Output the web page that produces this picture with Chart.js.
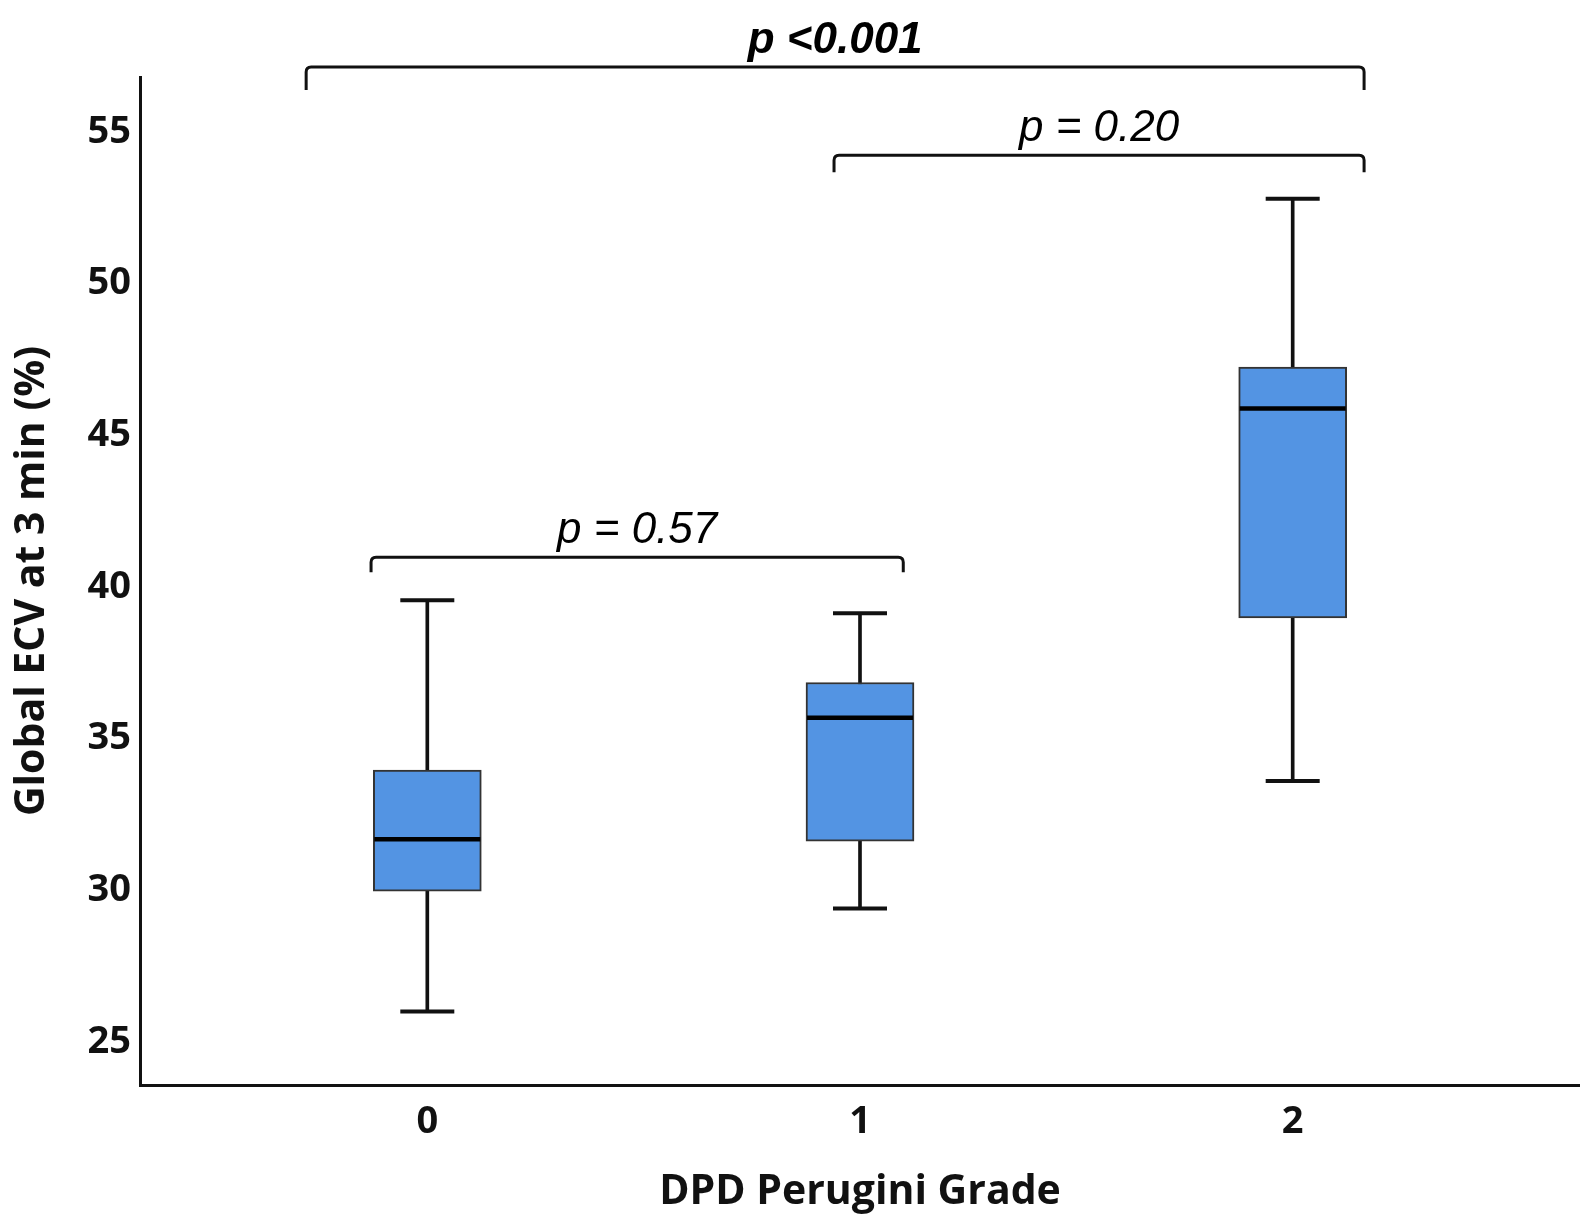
<!DOCTYPE html>
<html>
<head>
<meta charset="utf-8">
<script src="https://cdn.jsdelivr.net/npm/chart.js@4.4.0/dist/chart.umd.min.js"></script>
<style>
  html, body { margin: 0; padding: 0; background: #fff; }
  #wrap { width: 1580px; height: 1218px; position: relative; }
</style>
</head>
<body>
<div id="wrap"><canvas id="ecvBoxPlot"></canvas></div>
<script>
// DPD Perugini grade groups and box plot values (global ECV %)
var categories = ["0", "1", "2"];
var groupX = [0, 1, 2];
var whiskerLow = [26.0, 29.4, 33.6];
var q1 = [29.97, 31.62, 38.98];
var median = [31.68, 35.69, 45.88];
var q3 = [33.96, 36.85, 47.25];
var whiskerHigh = [39.56, 39.13, 52.8];
var yTicks = [25, 30, 35, 40, 45, 50, 55];

// comparison brackets (x in group units, level in ECV %)
var bracketStart = [-0.28, 0.94, -0.13];
var bracketEnd = [2.165, 2.165, 1.1];
var bracketLevel = [57.14, 54.23, 40.98];
var bracketLabels = ["p <0.001", "p = 0.20", "p = 0.57"];

function pts(xs, ys) {
  return xs.map(function (x, i) { return { x: x, y: ys[i] }; });
}
function ranges(xs, lo, hi) {
  return xs.map(function (x, i) { return { x: x, y: [lo[i], hi[i]] }; });
}

var bracketPlugin = {
  id: "brackets",
  afterDraw: function (chart, args, opts) {
    var ctx = chart.ctx;
    var xs = chart.scales.x, ys = chart.scales.y;
    ctx.save();
    ctx.strokeStyle = "#111";
    ctx.lineWidth = 3;
    ctx.fillStyle = "#000";
    ctx.textAlign = "center";
    ctx.textBaseline = "alphabetic";
    for (var i = 0; i < bracketLabels.length; i++) {
      var x1 = xs.getPixelForValue(bracketStart[i]);
      var x2 = xs.getPixelForValue(bracketEnd[i]);
      var y = ys.getPixelForValue(bracketLevel[i]);
      var drop = opts.drops[i], r = 5;
      ctx.beginPath();
      ctx.moveTo(x1, y + drop);
      ctx.lineTo(x1, y + r);
      ctx.quadraticCurveTo(x1, y, x1 + r, y);
      ctx.lineTo(x2 - r, y);
      ctx.quadraticCurveTo(x2, y, x2, y + r);
      ctx.lineTo(x2, y + drop);
      ctx.stroke();
      ctx.font = (opts.bold[i] ? "bold " : "") + "italic 44px 'Liberation Sans', Arial, sans-serif";
      ctx.fillText(bracketLabels[i], (x1 + x2) / 2, y - 14);
    }
    ctx.restore();
  }
};

var ctx = document.getElementById("ecvBoxPlot").getContext("2d");

new Chart(ctx, {
  type: "bar",
  data: {
    datasets: [
      {
        label: "whisker",
        data: ranges(groupX, whiskerLow, whiskerHigh),
        backgroundColor: "#111",
        barThickness: 3,
        grouped: false,
        order: 3
      },
      {
        label: "box",
        data: ranges(groupX, q1, q3),
        backgroundColor: "#5394e3",
        borderColor: "#333",
        borderWidth: 2,
        borderSkipped: false,
        barThickness: 108,
        grouped: false,
        order: 2
      },
      {
        type: "scatter",
        label: "median",
        data: pts(groupX, median),
        pointStyle: "line",
        radius: 53,
        borderWidth: 4.5,
        borderColor: "#000",
        order: 1
      },
      {
        type: "scatter",
        label: "caps",
        data: pts(groupX, whiskerLow).concat(pts(groupX, whiskerHigh)),
        pointStyle: "line",
        radius: 27,
        borderWidth: 4,
        borderColor: "#111",
        order: 1
      }
    ]
  },
  options: {
    responsive: true,
    maintainAspectRatio: false,
    animation: false,
    layout: { autoPadding: false, padding: { top: 77, right: 0, bottom: 0, left: 0 } },
    plugins: {
      legend: { display: false },
      tooltip: { enabled: false },
      brackets: { drops: [23, 17, 15], bold: [true, false, false] }
    },
    scales: {
      x: {
        type: "linear",
        offset: false,
        min: -0.664,
        max: 2.664,
        grid: { display: false, drawTicks: false },
        border: { display: true, color: "#111", width: 3 },
        afterBuildTicks: function (scale) {
          scale.ticks = groupX.map(function (v) { return { value: v }; });
        },
        afterFit: function (scale) { scale.height = 133; },
        ticks: {
          padding: 14,
          color: "#111",
          font: { family: "'Open Sans'", size: 38, weight: "bold" },
          callback: function (v) { return categories[groupX.indexOf(v)]; }
        },
        title: {
          display: true,
          text: "DPD Perugini Grade",
          color: "#111",
          font: { family: "'Open Sans'", size: 41, weight: "bold" },
          padding: { top: 0, bottom: 1 }
        }
      },
      y: {
        min: 23.58,
        max: 56.81,
        grid: { display: false, drawTicks: false },
        border: { display: true, color: "#111", width: 3 },
        afterBuildTicks: function (scale) {
          scale.ticks = yTicks.map(function (v) { return { value: v }; });
        },
        afterFit: function (scale) { scale.width = 140; },
        ticks: {
          padding: 9,
          color: "#111",
          font: { family: "'Open Sans'", size: 38, weight: "bold" }
        },
        title: {
          display: true,
          text: "Global ECV at 3 min (%)",
          color: "#111",
          font: { family: "'Open Sans'", size: 41, weight: "bold" },
          padding: { top: 8, bottom: 0 }
        }
      }
    }
  },
  plugins: [bracketPlugin]
});
</script>
</body>
</html>
